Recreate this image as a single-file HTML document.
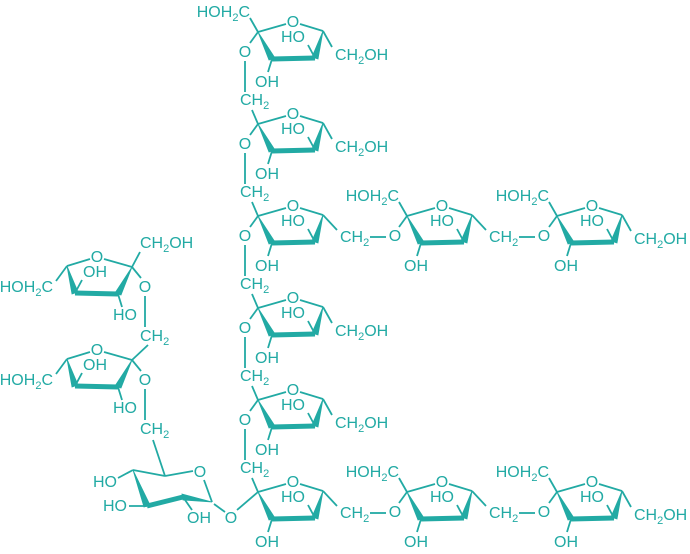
<!DOCTYPE html>
<html><head><meta charset="utf-8"><style>
html,body{margin:0;padding:0;background:#fff}
svg{display:block}
text{font-family:"Liberation Sans",sans-serif;font-size:16px;fill:#22aaa4}
</style></head><body>
<svg width="690" height="554" viewBox="0 0 690 554" xmlns="http://www.w3.org/2000/svg">
<defs>
<g id="ring" stroke="#22aaa4" fill="#22aaa4" stroke-width="1.8">
<line x1="0" y1="0" x2="28" y2="-8"/>
<line x1="42" y1="-8" x2="65" y2="-1"/>
<polygon points="65,-1 54,25 60,27" stroke-width="0.8"/>
<line x1="57" y1="26" x2="14" y2="27" stroke-width="5"/>
<polygon points="0,0 11,28 17,26" stroke-width="0.8"/>
<line x1="57" y1="26" x2="50" y2="13"/>
<line x1="14" y1="27" x2="10" y2="40"/>
</g>
</defs>
<g stroke="#22aaa4" stroke-width="1.8" fill="none">
<use href="#ring" x="258" y="32"/>
<use href="#ring" x="258" y="124"/>
<use href="#ring" x="258" y="216"/>
<use href="#ring" x="258" y="308"/>
<use href="#ring" x="258" y="400"/>
<use href="#ring" x="258" y="492"/>
<use href="#ring" x="407" y="216"/>
<use href="#ring" x="557" y="216"/>
<use href="#ring" x="407" y="492"/>
<use href="#ring" x="557" y="492"/>
<use href="#ring" transform="translate(132,267) scale(-1,1)"/>
<use href="#ring" transform="translate(132,360) scale(-1,1)"/>
<line x1="258" y1="32" x2="250" y2="18"/>
<line x1="407" y1="216" x2="399" y2="202"/>
<line x1="557" y1="216" x2="549" y2="202"/>
<line x1="407" y1="492" x2="399" y2="478"/>
<line x1="557" y1="492" x2="549" y2="478"/>
<line x1="258" y1="32" x2="250" y2="43"/>
<line x1="258" y1="124" x2="250" y2="135"/>
<line x1="258" y1="216" x2="250" y2="227"/>
<line x1="258" y1="308" x2="250" y2="319"/>
<line x1="258" y1="400" x2="250" y2="411"/>
<line x1="407" y1="216" x2="399" y2="227"/>
<line x1="557" y1="216" x2="549" y2="227"/>
<line x1="407" y1="492" x2="399" y2="503"/>
<line x1="557" y1="492" x2="549" y2="503"/>
<line x1="245" y1="61" x2="245" y2="92"/><line x1="252" y1="110" x2="258" y2="124"/>
<line x1="245" y1="153" x2="245" y2="184"/><line x1="252" y1="202" x2="258" y2="216"/>
<line x1="245" y1="245" x2="245" y2="276"/><line x1="252" y1="294" x2="258" y2="308"/>
<line x1="245" y1="337" x2="245" y2="368"/><line x1="252" y1="386" x2="258" y2="400"/>
<line x1="245" y1="429" x2="245" y2="460"/><line x1="252" y1="478" x2="258" y2="492"/>
<line x1="323" y1="31" x2="332" y2="47"/>
<line x1="323" y1="123" x2="332" y2="139"/>
<line x1="323" y1="307" x2="332" y2="323"/>
<line x1="323" y1="399" x2="332" y2="415"/>
<line x1="622" y1="215" x2="631" y2="231"/>
<line x1="622" y1="491" x2="631" y2="507"/>
<line x1="323" y1="215" x2="337" y2="230"/><line x1="370" y1="237" x2="386" y2="237"/>
<line x1="472" y1="215" x2="486" y2="230"/><line x1="519" y1="237" x2="535" y2="237"/>
<line x1="323" y1="491" x2="337" y2="506"/><line x1="370" y1="513" x2="386" y2="513"/>
<line x1="472" y1="491" x2="486" y2="506"/><line x1="519" y1="513" x2="535" y2="513"/>
<line x1="258" y1="492" x2="237" y2="510"/>
<line x1="225" y1="512" x2="214" y2="504"/>
<line x1="132" y1="267" x2="140" y2="252"/>
<line x1="132" y1="267" x2="141" y2="278"/>
<line x1="145" y1="296" x2="145" y2="327"/>
<line x1="148" y1="345" x2="132" y2="360"/>
<line x1="67" y1="266" x2="56" y2="281"/>
<line x1="132" y1="360" x2="141" y2="371"/>
<line x1="145" y1="389" x2="145" y2="420"/>
<line x1="67" y1="359" x2="56" y2="374"/>
<line x1="165" y1="476" x2="153" y2="440"/>
<line x1="133" y1="470" x2="165" y2="476"/>
<line x1="165" y1="476" x2="193" y2="471"/>
<line x1="204" y1="480" x2="212" y2="502"/>
<polygon points="212,502 182,494 183,500" fill="#22aaa4" stroke-width="0.8"/>
<line x1="147" y1="506" x2="183" y2="497" stroke-width="5"/>
<polygon points="133,470 144,507 150,505" fill="#22aaa4" stroke-width="0.8"/>
<line x1="133" y1="470" x2="118" y2="478"/>
<line x1="147" y1="506" x2="129" y2="506"/>
<line x1="183" y1="497" x2="192" y2="510"/>
</g>
<g>
<text x="250" y="17" text-anchor="end">HOH<tspan font-size="11" dy="4">2</tspan><tspan dy="-4">C</tspan></text>
<text x="293" y="27" text-anchor="middle">O</text>
<text x="305" y="42" text-anchor="end">HO</text>
<text x="255" y="87">OH</text>
<text x="335" y="60">CH<tspan font-size="11" dy="4">2</tspan><tspan dy="-4">OH</tspan></text>
<text x="245" y="57" text-anchor="middle">O</text>
<text x="240" y="105">CH<tspan font-size="11" dy="4">2</tspan></text>

<text x="293" y="119" text-anchor="middle">O</text>
<text x="305" y="134" text-anchor="end">HO</text>
<text x="255" y="179">OH</text>
<text x="335" y="152">CH<tspan font-size="11" dy="4">2</tspan><tspan dy="-4">OH</tspan></text>
<text x="245" y="149" text-anchor="middle">O</text>
<text x="240" y="197">CH<tspan font-size="11" dy="4">2</tspan></text>

<text x="293" y="211" text-anchor="middle">O</text>
<text x="305" y="226" text-anchor="end">HO</text>
<text x="255" y="271">OH</text>
<text x="245" y="241" text-anchor="middle">O</text>
<text x="240" y="289">CH<tspan font-size="11" dy="4">2</tspan></text>
<text x="340" y="242">CH<tspan font-size="11" dy="4">2</tspan></text>
<text x="395" y="241" text-anchor="middle">O</text>

<text x="293" y="303" text-anchor="middle">O</text>
<text x="305" y="318" text-anchor="end">HO</text>
<text x="255" y="363">OH</text>
<text x="335" y="336">CH<tspan font-size="11" dy="4">2</tspan><tspan dy="-4">OH</tspan></text>
<text x="245" y="333" text-anchor="middle">O</text>
<text x="240" y="381">CH<tspan font-size="11" dy="4">2</tspan></text>

<text x="293" y="395" text-anchor="middle">O</text>
<text x="305" y="410" text-anchor="end">HO</text>
<text x="255" y="455">OH</text>
<text x="335" y="428">CH<tspan font-size="11" dy="4">2</tspan><tspan dy="-4">OH</tspan></text>
<text x="245" y="425" text-anchor="middle">O</text>
<text x="240" y="473">CH<tspan font-size="11" dy="4">2</tspan></text>

<text x="293" y="487" text-anchor="middle">O</text>
<text x="305" y="502" text-anchor="end">HO</text>
<text x="255" y="547">OH</text>
<text x="231" y="523" text-anchor="middle">O</text>
<text x="340" y="518">CH<tspan font-size="11" dy="4">2</tspan></text>
<text x="395" y="517" text-anchor="middle">O</text>

<text x="399" y="201" text-anchor="end">HOH<tspan font-size="11" dy="4">2</tspan><tspan dy="-4">C</tspan></text>
<text x="442" y="211" text-anchor="middle">O</text>
<text x="454" y="226" text-anchor="end">HO</text>
<text x="404" y="271">OH</text>
<text x="489" y="242">CH<tspan font-size="11" dy="4">2</tspan></text>
<text x="544" y="241" text-anchor="middle">O</text>

<text x="549" y="201" text-anchor="end">HOH<tspan font-size="11" dy="4">2</tspan><tspan dy="-4">C</tspan></text>
<text x="592" y="211" text-anchor="middle">O</text>
<text x="604" y="226" text-anchor="end">HO</text>
<text x="554" y="271">OH</text>
<text x="634" y="244">CH<tspan font-size="11" dy="4">2</tspan><tspan dy="-4">OH</tspan></text>

<text x="399" y="477" text-anchor="end">HOH<tspan font-size="11" dy="4">2</tspan><tspan dy="-4">C</tspan></text>
<text x="442" y="487" text-anchor="middle">O</text>
<text x="454" y="502" text-anchor="end">HO</text>
<text x="404" y="547">OH</text>
<text x="489" y="518">CH<tspan font-size="11" dy="4">2</tspan></text>
<text x="544" y="517" text-anchor="middle">O</text>

<text x="549" y="477" text-anchor="end">HOH<tspan font-size="11" dy="4">2</tspan><tspan dy="-4">C</tspan></text>
<text x="592" y="487" text-anchor="middle">O</text>
<text x="604" y="502" text-anchor="end">HO</text>
<text x="554" y="547">OH</text>
<text x="634" y="520">CH<tspan font-size="11" dy="4">2</tspan><tspan dy="-4">OH</tspan></text>

<text x="97" y="262" text-anchor="middle">O</text>
<text x="140" y="248">CH<tspan font-size="11" dy="4">2</tspan><tspan dy="-4">OH</tspan></text>
<text x="83" y="277">OH</text>
<text x="113" y="320">HO</text>
<text x="145" y="292" text-anchor="middle">O</text>
<text x="140" y="341">CH<tspan font-size="11" dy="4">2</tspan></text>
<text x="53" y="292" text-anchor="end">HOH<tspan font-size="11" dy="4">2</tspan><tspan dy="-4">C</tspan></text>

<text x="97" y="355" text-anchor="middle">O</text>
<text x="83" y="370">OH</text>
<text x="113" y="413">HO</text>
<text x="145" y="385" text-anchor="middle">O</text>
<text x="140" y="434">CH<tspan font-size="11" dy="4">2</tspan></text>
<text x="53" y="385" text-anchor="end">HOH<tspan font-size="11" dy="4">2</tspan><tspan dy="-4">C</tspan></text>

<text x="200" y="477" text-anchor="middle">O</text>
<text x="117" y="487" text-anchor="end">HO</text>
<text x="127" y="511" text-anchor="end">HO</text>
<text x="187" y="523">OH</text>
</g>
</svg>
</body></html>
